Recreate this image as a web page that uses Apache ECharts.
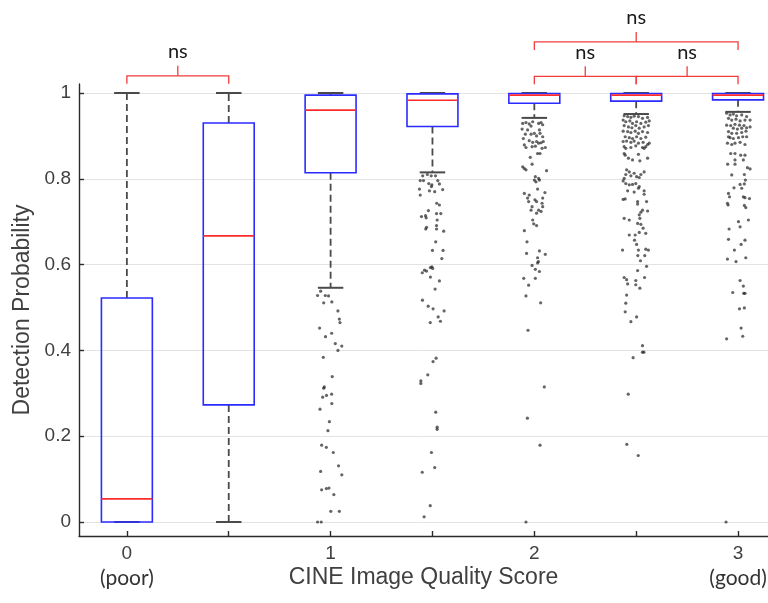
<!DOCTYPE html>
<html>
<head>
<meta charset="utf-8">
<script src="https://cdn.jsdelivr.net/npm/echarts@6/dist/echarts.min.js"></script>
<style>
html, body { margin: 0; padding: 0; background: #fff; }
#chart { width: 768px; height: 603px; }
</style>
</head>
<body>
<div id="chart"></div>
<script>
// box positions on the quality axis (half steps between scores)
var groupX = [0, 0.5, 1, 1.5, 2, 2.5, 3];
var whiskerLow = [0, 0, 0.546, 0.815, 0.942, 0.951, 0.956];
var q1 = [0, 0.273, 0.814, 0.922, 0.976, 0.981, 0.984];
var median = [0.054, 0.667, 0.960, 0.983, 0.995, 0.995, 0.995];
var q3 = [0.522, 0.930, 0.995, 0.998, 0.999, 0.999, 0.999];
var whiskerHigh = [1, 1, 1, 1, 1, 1, 1];

var yTicks = [0, 0.2, 0.4, 0.6, 0.8, 1];
var xTicks = [0, 0.5, 1, 1.5, 2, 2.5, 3];
var xLabels = [0, 1, 2, 3];

// outliers: [jitter from box x, value]
var out1 = [[-0.049,0.538],[-0.064,0.528],[-0.026,0.528],[-0.010,0.527],[-0.034,0.511],[0.006,0.513],[0.036,0.492],[0.043,0.473],[0.046,0.465],[-0.054,0.452],[0.005,0.440],[-0.025,0.432],[0.023,0.416],[0.055,0.410],[0.036,0.400],[-0.036,0.384],[0.008,0.339],[-0.031,0.315],[-0.034,0.312],[-0.039,0.291],[-0.020,0.295],[0.005,0.298],[0.006,0.276],[-0.052,0.263],[-0.006,0.234],[-0.013,0.213],[-0.044,0.179],[-0.021,0.174],[0.013,0.162],[0.039,0.131],[-0.049,0.118],[0.055,0.110],[-0.044,0.075],[-0.021,0.078],[-0.008,0.079],[0.016,0.064],[0.001,0.025],[0.043,0.025],[-0.064,0.0],[-0.046,0.0]];
var out15 = [[-0.048,0.807],[-0.025,0.810],[-0.006,0.807],[0.015,0.807],[-0.060,0.796],[-0.044,0.796],[-0.018,0.789],[-0.003,0.786],[-0.005,0.782],[0.026,0.796],[0.034,0.788],[-0.064,0.776],[-0.015,0.772],[0.011,0.770],[0.050,0.775],[-0.060,0.762],[0.021,0.743],[0.034,0.739],[-0.020,0.726],[-0.054,0.712],[-0.034,0.714],[-0.031,0.709],[0.020,0.719],[0.041,0.719],[0.023,0.704],[0.020,0.691],[0.020,0.683],[-0.029,0.687],[-0.033,0.683],[0.055,0.678],[0.016,0.653],[0,0.633],[0.052,0.633],[0.046,0.614],[-0.039,0.587],[-0.029,0.585],[-0.050,0.581],[-0.010,0.593],[-0.003,0.595],[0.001,0.591],[-0.010,0.571],[0.034,0.562],[0.013,0.543],[-0.049,0.517],[-0.021,0.503],[0.003,0.497],[0.057,0.492],[0.028,0.478],[-0.011,0.465],[0.039,0.468],[0.018,0.382],[0.003,0.374],[-0.023,0.343],[-0.057,0.329],[-0.057,0.323],[0.016,0.256],[0.023,0.221],[0.023,0.216],[-0.005,0.162],[0.011,0.127],[-0.050,0.116],[-0.011,0.038],[-0.041,0.012]];
var out2 = [[-0.057,0.929],[-0.041,0.931],[-0.025,0.928],[-0.016,0.923],[-0.008,0.933],[0.021,0.929],[0.033,0.931],[0.041,0.926],[0.025,0.914],[-0.060,0.916],[-0.033,0.914],[-0.044,0.904],[-0.016,0.904],[0,0.906],[0.011,0.900],[0.028,0.906],[0.041,0.898],[-0.054,0.894],[-0.025,0.889],[-0.008,0.885],[0.011,0.887],[0.021,0.883],[0.033,0.884],[0.044,0.887],[-0.049,0.879],[-0.041,0.873],[-0.011,0.875],[0.005,0.876],[0.038,0.871],[0.054,0.873],[0.016,0.859],[0.028,0.859],[-0.020,0.850],[-0.011,0.834],[-0.057,0.828],[-0.049,0.824],[-0.041,0.821],[0.060,0.819],[0.005,0.805],[0.021,0.801],[0,0.797],[0.008,0.793],[0.025,0.797],[0.016,0.776],[-0.049,0.766],[-0.025,0.762],[0.052,0.768],[-0.033,0.755],[-0.028,0.747],[0.003,0.751],[0.011,0.747],[0.041,0.755],[0.038,0.743],[-0.011,0.735],[-0.016,0.727],[0.021,0.727],[0.033,0.724],[0.011,0.720],[0.041,0.735],[-0.008,0.704],[-0.003,0.695],[0.011,0.691],[-0.049,0.679],[-0.036,0.653],[-0.038,0.626],[0.025,0.632],[0.054,0.624],[0.016,0.616],[0.020,0.607],[0.016,0.604],[-0.011,0.598],[0.005,0.589],[0.025,0.584],[-0.052,0.568],[0.005,0.568],[-0.028,0.552],[-0.041,0.527],[0.031,0.511],[-0.031,0.447],[0.049,0.315],[-0.034,0.242],[0.028,0.179],[-0.041,0.0]];
var out25 = [[-0.059,0.947],[-0.042,0.945],[-0.026,0.943],[-0.010,0.946],[0.011,0.945],[0.031,0.941],[0.056,0.943],[-0.064,0.937],[-0.051,0.933],[-0.031,0.935],[-0.018,0.929],[0.002,0.933],[0.023,0.929],[0.047,0.932],[0.064,0.935],[-0.059,0.924],[-0.038,0.921],[-0.021,0.919],[-0.002,0.924],[0.015,0.918],[0.039,0.921],[0.060,0.924],[-0.064,0.911],[-0.042,0.910],[-0.026,0.908],[-0.005,0.911],[0.011,0.906],[0.031,0.910],[0.056,0.908],[-0.054,0.898],[-0.034,0.896],[-0.018,0.894],[0.002,0.898],[0.023,0.894],[0.047,0.897],[-0.064,0.887],[-0.047,0.888],[-0.026,0.885],[-0.010,0.888],[0.011,0.883],[0.034,0.885],[0.056,0.880],[0.064,0.883],[-0.059,0.875],[-0.051,0.871],[-0.026,0.873],[-0.002,0.877],[0.031,0.873],[0.047,0.875],[-0.059,0.859],[-0.054,0.855],[-0.038,0.848],[-0.018,0.844],[0.011,0.857],[0.018,0.842],[0.039,0.871],[0.056,0.848],[-0.047,0.821],[-0.034,0.816],[-0.051,0.810],[-0.026,0.807],[-0.010,0.813],[0.002,0.805],[0.015,0.803],[0.023,0.810],[-0.059,0.801],[-0.064,0.795],[-0.051,0.789],[-0.034,0.786],[-0.018,0.787],[-0.002,0.789],[0.015,0.782],[0.039,0.816],[-0.042,0.772],[-0.010,0.769],[0.011,0.778],[0.039,0.772],[0.039,0.764],[-0.064,0.752],[-0.054,0.753],[0.007,0.747],[0.007,0.741],[0.051,0.747],[0.031,0.727],[0.056,0.725],[0.023,0.722],[0.015,0.716],[0.018,0.708],[-0.059,0.708],[-0.034,0.704],[0.007,0.696],[0.023,0.694],[0.034,0.685],[0.047,0.673],[0.015,0.675],[-0.034,0.669],[-0.005,0.669],[-0.008,0.657],[0.002,0.647],[-0.067,0.634],[0.011,0.634],[0.047,0.636],[0.060,0.634],[0.008,0.621],[0.042,0.621],[0.021,0.609],[0.051,0.596],[0.007,0.586],[-0.059,0.570],[-0.047,0.565],[-0.002,0.563],[-0.042,0.555],[0.041,0.570],[-0.002,0.553],[0.018,0.545],[-0.047,0.529],[-0.051,0.510],[-0.054,0.490],[0.002,0.478],[-0.026,0.467],[0.031,0.411],[0.031,0.396],[0.038,0.396],[-0.015,0.383],[-0.039,0.298],[-0.046,0.181],[0.010,0.155]];
var out3 = [[-0.056,0.953],[-0.039,0.949],[-0.023,0.951],[-0.007,0.947],[0.018,0.949],[0.042,0.945],[-0.047,0.941],[-0.031,0.937],[-0.010,0.939],[0.010,0.935],[0.034,0.937],[0.059,0.937],[-0.056,0.925],[-0.036,0.924],[-0.015,0.927],[0.007,0.925],[0.029,0.924],[-0.023,0.918],[-0.003,0.916],[0.018,0.918],[0.042,0.919],[0.059,0.921],[-0.047,0.910],[-0.031,0.906],[-0.007,0.906],[0.018,0.908],[0.039,0.911],[-0.047,0.898],[-0.039,0.896],[-0.023,0.894],[0.002,0.896],[0.023,0.898],[0.042,0.898],[-0.052,0.883],[-0.031,0.880],[-0.015,0.883],[0.010,0.885],[0.034,0.880],[-0.036,0.859],[-0.015,0.859],[0.013,0.855],[0.034,0.855],[-0.015,0.844],[0.026,0.844],[-0.051,0.834],[-0.015,0.834],[0.046,0.826],[0.059,0.823],[-0.031,0.809],[0.031,0.810],[0.036,0.797],[0.010,0.787],[0.031,0.788],[-0.020,0.779],[0.018,0.778],[-0.047,0.766],[-0.042,0.758],[0.026,0.758],[0.034,0.756],[0.056,0.754],[-0.052,0.743],[-0.049,0.739],[0.031,0.738],[0.038,0.733],[0.051,0.704],[0.002,0.700],[0.010,0.688],[-0.044,0.683],[-0.047,0.659],[0.034,0.657],[0.015,0.647],[-0.018,0.634],[-0.052,0.613],[-0.010,0.607],[0.038,0.616],[0.010,0.563],[0.026,0.550],[-0.026,0.535],[0.028,0.533],[0.034,0.533],[0.007,0.497],[0.031,0.499],[0.015,0.452],[0.023,0.433],[-0.056,0.427],[-0.059,0.0]];

// significance brackets
var bracketFrom = [0, 2, 2.5, 2];
var bracketTo = [0.5, 2.5, 3, 3];
var bracketLevel = [1.040, 1.039, 1.039, 1.119];
var bracketText = ['ns', 'ns', 'ns', 'ns'];

var BOX_HALF = 0.125;
var CAP_HALF = 0.0625;

var outlierGroups = [[1, out1], [1.5, out15], [2, out2], [2.5, out25], [3, out3]];
var scatterData = [];
outlierGroups.forEach(function (g) {
	g[1].forEach(function (p) { scatterData.push([g[0] + p[0], p[1]]); });
});

var boxData = groupX.map(function (x, i) {
	return [x, whiskerLow[i], q1[i], median[i], q3[i], whiskerHigh[i]];
});

var bracketData = bracketFrom.map(function (x, i) {
	return [x, bracketTo[i], bracketLevel[i], bracketText[i]];
});

function renderBox(params, api) {
	var x = api.value(0);
	var px = api.coord([x, 0])[0];
	var xl = api.coord([x - BOX_HALF, 0])[0], xr = api.coord([x + BOX_HALF, 0])[0];
	var cl = api.coord([x - CAP_HALF, 0])[0], cr = api.coord([x + CAP_HALF, 0])[0];
	var yLo = api.coord([x, api.value(1)])[1];
	var y1 = api.coord([x, api.value(2)])[1];
	var yM = api.coord([x, api.value(3)])[1];
	var y3 = api.coord([x, api.value(4)])[1];
	var yHi = api.coord([x, api.value(5)])[1];
	var whisker = { stroke: '#4a4a4a', lineWidth: 1.8, lineDash: [7, 4] };
	var cap = { stroke: '#4a4a4a', lineWidth: 2 };
	return {
		type: 'group',
		children: [
			{ type: 'line', shape: { x1: px, y1: y3, x2: px, y2: yHi }, style: whisker },
			{ type: 'line', shape: { x1: px, y1: y1, x2: px, y2: yLo }, style: whisker },
			{ type: 'line', shape: { x1: cl, y1: yHi, x2: cr, y2: yHi }, style: cap },
			{ type: 'line', shape: { x1: cl, y1: yLo, x2: cr, y2: yLo }, style: cap },
			{ type: 'rect', shape: { x: xl, y: y3, width: xr - xl, height: y1 - y3 }, style: { fill: 'none', stroke: '#2b2bff', lineWidth: 1.6 } },
			{ type: 'line', shape: { x1: xl, y1: yM, x2: xr, y2: yM }, style: { stroke: '#ff2b2b', lineWidth: 1.6 } }
		]
	};
}

function renderBracket(params, api) {
	var x1 = api.value(0), x2 = api.value(1), lvl = api.value(2);
	var a = api.coord([x1, lvl]), b = api.coord([x2, lvl]), m = api.coord([(x1 + x2) / 2, lvl]);
	var red = { stroke: '#f23c3c', lineWidth: 1.3, fill: 'none' };
	return {
		type: 'group',
		children: [
			{ type: 'polyline', shape: { points: [[a[0], a[1] + 8], a, b, [b[0], b[1] + 8]] }, style: red },
			{ type: 'line', shape: { x1: m[0], y1: m[1], x2: m[0], y2: m[1] - 10 }, style: red },
			{ type: 'text', x: m[0], y: m[1] - 24, style: { text: api.value(3), fill: '#1a1a1a', font: '20px Lato', align: 'center', verticalAlign: 'middle' } }
		]
	};
}

var chart = echarts.init(document.getElementById('chart'));
chart.setOption({
	animation: false,
	backgroundColor: '#fff',
	grid: { left: 79, right: 0, top: 84, bottom: 67, outerBoundsMode: 'none' },
	xAxis: {
		type: 'value',
		min: -0.235,
		max: 3.147,
		name: 'CINE Image Quality Score',
		nameLocation: 'middle',
		nameGap: 30,
		nameMoveOverlap: false,
		nameTextStyle: { fontSize: 23, fontFamily: 'Liberation Sans', color: '#404040' },
		axisLine: { onZero: false, lineStyle: { color: '#2a2a2a', width: 1.4 } },
		axisTick: { inside: true, length: 5, customValues: xTicks, lineStyle: { color: '#2a2a2a', width: 1.4 } },
		axisLabel: {
			customValues: xLabels,
			margin: 6,
			formatter: function (v) {
				if (v === 0) return '{t|0}\n{s|(poor)}';
				if (v === 3) return '{t|3}\n{s|(good)}';
				return '{t|' + v + '}';
			},
			rich: {
				t: { fontSize: 19, fontFamily: 'Liberation Sans', color: '#404040', lineHeight: 24 },
				s: { fontSize: 21, fontFamily: 'Lato', color: '#333', lineHeight: 24 }
			}
		},
		splitLine: { show: false }
	},
	yAxis: {
		type: 'value',
		min: -0.0326,
		max: 1.021,
		name: 'Detection Probability',
		nameLocation: 'middle',
		nameGap: 45,
		nameMoveOverlap: false,
		nameTextStyle: { fontSize: 23, fontFamily: 'Liberation Sans', color: '#404040' },
		axisLine: { show: true, onZero: false, lineStyle: { color: '#2a2a2a', width: 1.4 } },
		axisTick: { show: true, inside: true, length: 5, customValues: yTicks, lineStyle: { color: '#2a2a2a', width: 1.4 } },
		axisLabel: { customValues: yTicks, margin: 8, fontSize: 19, fontFamily: 'Liberation Sans', color: '#404040' },
		splitLine: { show: true, lineStyle: { color: '#e3e3e3', width: 1 } }
	},
	series: [
		{
			type: 'scatter',
			data: scatterData,
			symbolSize: 3.2,
			itemStyle: { color: 'rgba(30,30,30,0.85)' },
			z: 2
		},
		{
			type: 'custom',
			data: boxData,
			encode: { x: 0, y: [1, 2, 3, 4, 5] },
			renderItem: renderBox,
			z: 3
		},
		{
			type: 'custom',
			data: bracketData,
			encode: { x: [0, 1], y: 2 },
			renderItem: renderBracket,
			clip: false,
			z: 4
		}
	]
});
</script>
</body>
</html>
